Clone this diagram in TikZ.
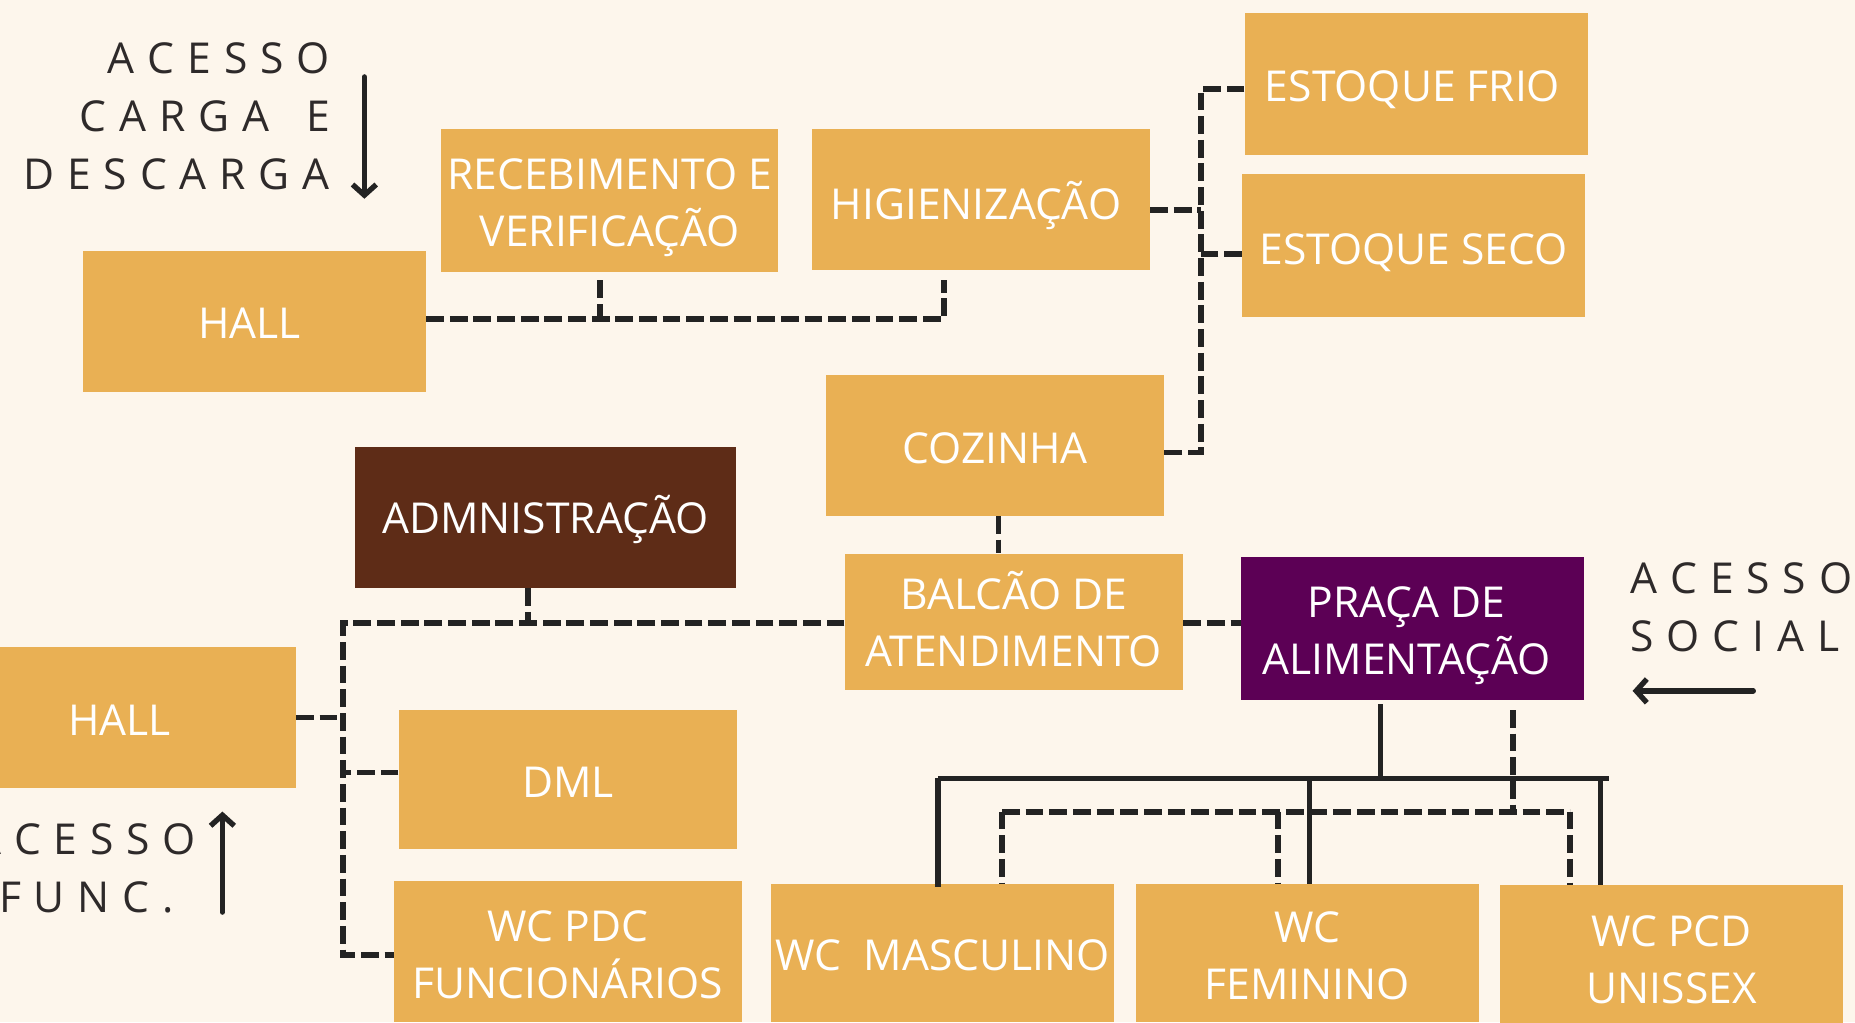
\documentclass[tikz,border=0pt]{standalone}
\usepackage{fontspec}
\setmainfont{Open Sans}
\usetikzlibrary{arrows.meta}
\definecolor{bg}{HTML}{FDF6EC}
\definecolor{boxor}{HTML}{E9B054}
\definecolor{admbrown}{HTML}{5E2C17}
\definecolor{pracapurple}{HTML}{5C0055}
\definecolor{ink}{HTML}{232323}
\definecolor{txtdark}{HTML}{2E2A2A}
\newcommand\lsp{\hspace{10.9pt}}
\begin{document}
\begin{tikzpicture}[x=1pt,y=-1pt,
  roombox/.style={fill=boxor, inner sep=0pt},
  rt/.style={text=white, font=\fontsize{36}{48}\selectfont, align=center, inner sep=0pt},
  dl/.style={draw=ink, line width=5pt, dash pattern=on 15pt off 5pt},
  sl/.style={draw=ink, line width=4.5pt},
  arr/.style={draw=ink, line width=4.5pt, line cap=round, -{Straight Barb[length=9pt,width=20pt]}},
  lbl/.style={text=txtdark, font=\fontsize{36}{48}\selectfont, inner sep=0pt}]
\fill[bg] (0,0) rectangle (1568,864);
\useasboundingbox (0,0) rectangle (1568,864);

% rooms
\node[roombox, minimum width=290pt, minimum height=119pt, label={[rt,xshift=-4pt,yshift=-2pt]center:{HALL}}] (hallA) at (215,271.5) {};
\node[roombox, minimum width=285pt, minimum height=121pt, label={[rt,yshift=-6pt]center:{RECEBIMENTO E\\VERIFICAÇÃO}}] (receb) at (515.5,169.5) {};
\node[roombox, minimum width=286pt, minimum height=119pt, label={[rt,xshift=-4pt,yshift=-5pt]center:{HIGIENIZAÇÃO}}] (higien) at (829,168.5) {};
\node[roombox, minimum width=290pt, minimum height=120pt, label={[rt,xshift=-3pt,yshift=-5pt]center:{ESTOQUE FRIO}}] (frio) at (1197,71) {};
\node[roombox, minimum width=290pt, minimum height=121pt, label={[rt,yshift=-6pt]center:{ESTOQUE SECO}}] (seco) at (1195,207.5) {};
\node[roombox, minimum width=286pt, minimum height=119pt, label={[rt,yshift=-2pt]center:{COZINHA}}] (cozinha) at (841,376.5) {};
\node[roombox, fill=admbrown, minimum width=322pt, minimum height=119pt, label={[rt,yshift=-2pt]center:{ADMNISTRAÇÃO}}] (adm) at (461,437.5) {};
\node[roombox, minimum width=286pt, minimum height=115pt, label={[rt,yshift=2pt]center:{BALCÃO DE\\ATENDIMENTO}}] (balcao) at (857,525.5) {};
\node[roombox, fill=pracapurple, minimum width=290pt, minimum height=121pt, label={[rt,xshift=-5pt,yshift=-6pt]center:{PRAÇA DE\\ALIMENTAÇÃO}}] (praca) at (1194,531.5) {};
\node[roombox, minimum width=290pt, minimum height=119pt, label={[rt,xshift=-4pt,yshift=-2pt]center:{HALL}}] (hallB) at (105,606.5) {};
\node[roombox, minimum width=286pt, minimum height=118pt, label={[rt,yshift=-2pt]center:{DML}}] (dml) at (480,659) {};
\node[roombox, minimum width=294pt, minimum height=119pt, label={[rt,yshift=-2.5pt]center:{WC PDC\\FUNCIONÁRIOS}}] (wcpdc) at (480,804.5) {};
\node[roombox, minimum width=290pt, minimum height=117pt, label={[rt,yshift=-2pt]center:{WC~~MASCULINO}}] (wcm) at (797,805.5) {};
\node[roombox, minimum width=290pt, minimum height=117pt, label={[rt,yshift=-2.5pt]center:{WC\\FEMININO}}] (wcf) at (1105,805.5) {};
\node[roombox, minimum width=290pt, minimum height=117pt, label={[rt,yshift=-4.5pt]center:{WC PCD\\UNISSEX}}] (wcpcd) at (1413,806.5) {};

% access labels
\node[lbl, anchor=base east] (t1) at (279,62) {A\lsp C\lsp E\lsp S\lsp S\lsp O};
\node[lbl, anchor=base east] (t2) at (279,111) {C\lsp A\lsp R\lsp G\lsp A\lsp\ \lsp E};
\node[lbl, anchor=base east] (t3) at (279,160) {D\lsp E\lsp S\lsp C\lsp A\lsp R\lsp G\lsp A};
\node[lbl, anchor=base west] (t4) at (1378,502) {A\lsp C\lsp E\lsp S\lsp S\lsp O};
\node[lbl, anchor=base west] (t5) at (1378,551) {S\lsp O\lsp C\lsp I\lsp A\lsp L};
\node[lbl, anchor=base west] (t6) at (-22,722) {A\lsp C\lsp E\lsp S\lsp S\lsp O};
\node[lbl, anchor=base west] (t7) at (-1,771) {F\lsp U\lsp N\lsp C\lsp .};

% access arrows
\coordinate (a1s) at (308,65); \coordinate (a1e) at (308,168);
\draw[arr] (a1s) -- (a1e);
\coordinate (a2s) at (188,771); \coordinate (a2e) at (188,686);
\draw[arr] (a2s) -- (a2e);
\coordinate (a3s) at (1482,584); \coordinate (a3e) at (1380,584);
\draw[arr] (a3s) -- (a3e);

% top cluster
\coordinate (j1) at (507,237);
\coordinate (j2) at (798,237);
\draw[dl] ([yshift=2pt]hallA.east) -| (j2);
\draw[dl] (j1) -- ([yshift=2pt]j1 |- hallA.east);

% storage bus
\coordinate (b1) at (1015,0);
\draw[dl] ([yshift=-4pt]frio.west) -- ([yshift=-4pt]frio.west -| b1) |- ([yshift=-6pt]cozinha.east);
\draw[dl] ([yshift=-9pt]higien.east) -- ([yshift=-9pt]higien.east -| b1);
\draw[dl] ([yshift=-7pt]seco.west) -- ([yshift=-7pt]seco.west -| b1);
\draw[dl] ([xshift=3pt]cozinha.south) -- ([xshift=3pt]cozinha.south |- balcao.north);

% left bus
\coordinate (lb) at (290,0);
\draw[dl] ([yshift=-1pt]balcao.west) -- ([yshift=-1pt]balcao.west -| lb) |- ([yshift=-3pt]wcpdc.west);
\draw[dl] ([xshift=-15pt]adm.south) -- ([xshift=-15pt,yshift=-1pt]adm.south |- balcao.west);
\draw[dl] (hallB.east) -- (hallB.east -| lb);
\draw[dl] ([yshift=6pt]dml.west) -- ([yshift=6pt]dml.west -| lb);
\draw[dl] ([yshift=-1pt]balcao.east) -- ([yshift=-1pt]balcao.east -| praca.west);

% toilets: solid
\coordinate (s0) at (1167,660);
\coordinate (sl1) at (793,658);
\coordinate (sr1) at (1360,658);
\coordinate (sm) at (1107,658);
\coordinate (sp) at (1353,658);
\draw[sl] ([yshift=-3pt]s0 |- praca.south) -- (s0);
\draw[sl] (sl1) -- (sr1);
\draw[sl] (sl1) -- ([yshift=-3pt]sl1 |- wcm.north);
\draw[sl] (sm) -- (sm |- wcf.north);
\draw[sl] (sp) -- (sp |- wcpcd.north);

% toilets: dashed
\coordinate (d0) at (1279,686);
\coordinate (dl1) at (847,686);
\coordinate (dr1) at (1327,686);
\coordinate (dm) at (1080,686);
\draw[dl] ([yshift=-8pt]d0 |- praca.south) -- (d0);
\draw[dl] (dl1) -- (dr1);
\draw[dl] (dl1) -- (dl1 |- wcm.north);
\draw[dl] (dm) -- (dm |- wcf.north);
\draw[dl] (dr1) -- (dr1 |- wcpcd.north);
\end{tikzpicture}
\end{document}
